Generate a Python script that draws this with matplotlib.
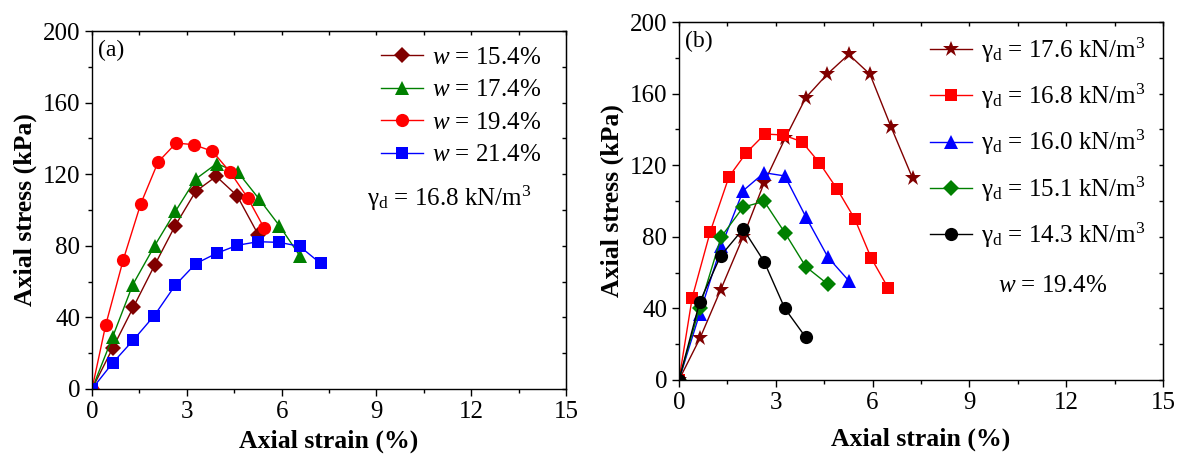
import matplotlib
matplotlib.use('Agg')
import matplotlib.pyplot as plt

plt.rcParams['font.family'] = ['Liberation Serif', 'DejaVu Serif']
plt.rcParams['mathtext.fontset'] = 'custom'
plt.rcParams['mathtext.rm'] = 'Liberation Serif'
plt.rcParams['mathtext.it'] = 'Liberation Serif:italic'
plt.rcParams['mathtext.bf'] = 'Liberation Serif:bold'

# (a) different water content, gamma_d = 16.8 kN/m3
a_x_154 = [0, 0.65, 1.31, 1.99, 2.63, 3.28, 3.93, 4.59, 5.26]
a_y_154 = [0, 22.7, 45.8, 69.5, 91.2, 110.4, 118.8, 108.0, 86.2]
a_x_174 = [0, 0.65, 1.29, 1.98, 2.64, 3.28, 3.94, 4.62, 5.28, 5.93, 6.57]
a_y_174 = [0, 29.0, 58.3, 80.0, 99.3, 117.3, 125.9, 121.0, 106.3, 91.2, 74.5]
a_x_194 = [0, 0.43, 0.99, 1.54, 2.09, 2.66, 3.22, 3.81, 4.37, 4.92, 5.45]
a_y_194 = [0, 35.6, 72.3, 103.4, 126.8, 137.4, 136.5, 132.8, 121.2, 106.9, 89.8]
a_x_214 = [0, 0.65, 1.30, 1.97, 2.63, 3.28, 3.94, 4.60, 5.26, 5.93, 6.57, 7.23]
a_y_214 = [0, 14.5, 27.2, 41.0, 57.9, 70.0, 75.8, 80.3, 82.3, 81.9, 79.7, 70.2]

# (b) different dry unit weight, w = 19.4%
b_x_176 = [0, 0.65, 1.29, 1.99, 2.64, 3.29, 3.93, 4.59, 5.26, 5.92, 6.57, 7.24]
b_y_176 = [0, 23.3, 50.3, 80.1, 110.2, 135.0, 157.7, 170.8, 181.9, 170.8, 141.5, 112.7]
b_x_168 = [0, 0.41, 0.97, 1.55, 2.09, 2.66, 3.23, 3.81, 4.35, 4.90, 5.45, 5.96, 6.49]
b_y_168 = [0, 46.0, 82.9, 113.6, 127.0, 137.4, 136.9, 133.1, 121.4, 106.7, 89.9, 68.0, 51.2]
b_x_160 = [0, 0.64, 1.31, 1.99, 2.64, 3.28, 3.93, 4.62, 5.27]
b_y_160 = [0, 37.0, 74.7, 105.8, 115.8, 114.0, 91.2, 68.5, 55.3]
b_x_151 = [0, 0.64, 1.31, 1.99, 2.64, 3.28, 3.93, 4.62]
b_y_151 = [0, 40.4, 80.0, 96.6, 99.8, 82.3, 63.3, 53.4]
b_x_143 = [0, 0.64, 1.29, 1.99, 2.64, 3.28, 3.93]
b_y_143 = [0, 43.4, 69.3, 84.4, 66.1, 40.0, 23.8]

a_labels = ['$w$ = 15.4%', '$w$ = 17.4%', '$w$ = 19.4%', '$w$ = 21.4%']
b_labels = ['γ$_\\mathrm{d}$ = 17.6 kN/m$^3$', 'γ$_\\mathrm{d}$ = 16.8 kN/m$^3$',
            'γ$_\\mathrm{d}$ = 16.0 kN/m$^3$', 'γ$_\\mathrm{d}$ = 15.1 kN/m$^3$',
            'γ$_\\mathrm{d}$ = 14.3 kN/m$^3$']

brown = '#800000'
fs = 18


def style_axes(ax, xpad):
    ax.set_xlim(0, 15)
    ax.set_ylim(0, 200)
    ax.set_xticks([0, 3, 6, 9, 12, 15])
    ax.set_xticks([1.5, 4.5, 7.5, 10.5, 13.5], minor=True)
    ax.set_yticks([0, 40, 80, 120, 160, 200])
    ax.set_yticks([20, 60, 100, 140, 180], minor=True)
    ax.tick_params(which='major', direction='out', length=5, width=1, labelsize=18)
    ax.tick_params(which='minor', direction='out', length=3, width=1)
    for s in ax.spines.values():
        s.set_linewidth(1)
    top = ax.secondary_xaxis('top')
    top.set_xticks([0, 3, 6, 9, 12, 15])
    top.set_xticks([1.5, 4.5, 7.5, 10.5, 13.5], minor=True)
    top.tick_params(which='both', direction='in', labeltop=False, length=3, width=1)
    right = ax.secondary_yaxis('right')
    right.set_yticks([0, 40, 80, 120, 160, 200])
    right.set_yticks([20, 60, 100, 140, 180], minor=True)
    right.tick_params(which='both', direction='in', labelright=False, length=3, width=1)
    ax.set_xlabel('Axial strain (%)', fontsize=18.5, fontweight='bold', labelpad=xpad)
    ax.set_ylabel('Axial stress (kPa)', fontsize=18.5, fontweight='bold', labelpad=4)


fig = plt.figure(figsize=(11.8, 4.54), dpi=100)
ax1 = fig.add_axes([0.078, 0.1432, 0.4017, 0.7885])
ax2 = fig.add_axes([0.5754, 0.163, 0.4102, 0.7885])

kw = dict(lw=1, ms=9.5, markeredgewidth=0)
ax1.plot(a_x_154, a_y_154, color=brown, marker='D', label=a_labels[0], **dict(kw, ms=8.5))
ax1.plot(a_x_174, a_y_174, color='green', marker='^', label=a_labels[1], **kw)
ax1.plot(a_x_194, a_y_194, color='red', marker='o', label=a_labels[2], **kw)
ax1.plot(a_x_214, a_y_214, color='blue', marker='s', label=a_labels[3], **dict(kw, ms=8.5))
style_axes(ax1, 5)
ax1.text(0.012, 0.975, '(a)', transform=ax1.transAxes, fontsize=17, va='top')
ax1.legend(loc='upper right', bbox_to_anchor=(0.995, 1.02), frameon=False, fontsize=fs,
           handlelength=1.7, handletextpad=0.35, labelspacing=0.4)
ax1.text(0.58, 0.51, 'γ$_\\mathrm{d}$ = 16.8 kN/m$^3$', transform=ax1.transAxes, fontsize=fs)

ax2.plot(b_x_176, b_y_176, color=brown, marker='*', label=b_labels[0], **dict(kw, ms=12))
ax2.plot(b_x_168, b_y_168, color='red', marker='s', label=b_labels[1], **dict(kw, ms=8.5))
ax2.plot(b_x_160, b_y_160, color='blue', marker='^', label=b_labels[2], **kw)
ax2.plot(b_x_151, b_y_151, color='green', marker='D', label=b_labels[3], **dict(kw, ms=8.5))
ax2.plot(b_x_143, b_y_143, color='black', marker='o', label=b_labels[4], **kw)
style_axes(ax2, 10)
ax2.text(0.012, 0.975, '(b)', transform=ax2.transAxes, fontsize=17, va='top')
ax2.legend(loc='upper right', bbox_to_anchor=(1.01, 1.025), frameon=False, fontsize=fs,
           handlelength=1.7, handletextpad=0.35, labelspacing=0.68)
ax2.text(0.66, 0.245, '$w$ = 19.4%', transform=ax2.transAxes, fontsize=fs)

fig.savefig('out.png', dpi=100)
